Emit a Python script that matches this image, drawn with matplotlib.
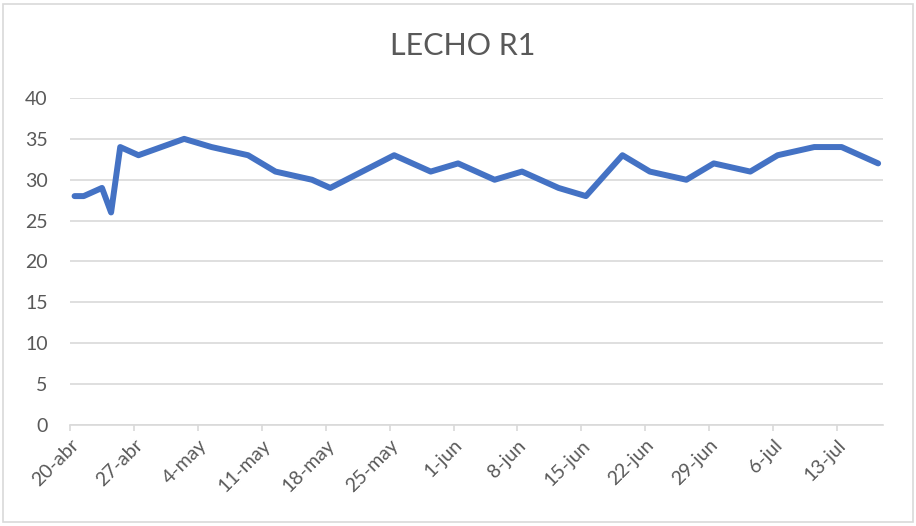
import numpy as np
import matplotlib.pyplot as plt
import matplotlib.dates as mdates
import matplotlib.transforms as mtransforms
from matplotlib.patches import Rectangle

# Datos de la serie LECHO R1
fechas = ['2021-04-20', '2021-04-21', '2021-04-23', '2021-04-24', '2021-04-25',
          '2021-04-27', '2021-05-02', '2021-05-05', '2021-05-09', '2021-05-12',
          '2021-05-16', '2021-05-18', '2021-05-25', '2021-05-29', '2021-06-01',
          '2021-06-05', '2021-06-08', '2021-06-12', '2021-06-15', '2021-06-19',
          '2021-06-22', '2021-06-26', '2021-06-29', '2021-07-03', '2021-07-06',
          '2021-07-10', '2021-07-13', '2021-07-17']
valores = [28, 28, 29, 26, 34, 33, 35, 34, 33, 31, 30, 29, 33, 31, 32,
           30, 31, 29, 28, 33, 31, 30, 32, 31, 33, 34, 34, 32]

ticks_fechas = ['2021-04-20', '2021-04-27', '2021-05-04', '2021-05-11', '2021-05-18',
                '2021-05-25', '2021-06-01', '2021-06-08', '2021-06-15', '2021-06-22',
                '2021-06-29', '2021-07-06', '2021-07-13']
ticks_etiquetas = ['20-abr', '27-abr', '4-may', '11-may', '18-may', '25-may', '1-jun',
                   '8-jun', '15-jun', '22-jun', '29-jun', '6-jul', '13-jul']
y_ticks = [0, 5, 10, 15, 20, 25, 30, 35, 40]

gris_texto = '#595959'
gris_linea = '#D9D9D9'
azul = '#4472C4'

plt.rcParams['font.family'] = ['Lato', 'DejaVu Sans']

x = mdates.date2num(np.array(fechas, dtype='datetime64[D]'))
xt = mdates.date2num(np.array(ticks_fechas, dtype='datetime64[D]')) - 0.5

fig = plt.figure(figsize=(9.16, 5.26), dpi=100)
ax = fig.add_axes([70 / 916, 1 - 425 / 526, 812.7 / 916, 327 / 526])

ax.plot(x, valores, color=azul, linewidth=4.3, solid_joinstyle='round',
        solid_capstyle='round', zorder=3)

ax.set_xlim(x[0] - 0.5, x[-1] + 0.5)
ax.set_ylim(0, 40)
ax.set_yticks(y_ticks)
ax.set_xticks(xt)
ax.set_xticklabels(ticks_etiquetas, rotation=45, ha='right', va='top',
                   rotation_mode='anchor')

# mover las etiquetas un poco hacia la derecha y abajo como en Excel
desplaza = mtransforms.ScaledTranslation(6 / 100, -5 / 100, fig.dpi_scale_trans)
for lbl in ax.get_xticklabels():
    lbl.set_transform(lbl.get_transform() + desplaza)

ax.grid(axis='y', color=gris_linea, linewidth=1.2)
ax.set_axisbelow(True)
for s in ['top', 'right', 'left']:
    ax.spines[s].set_visible(False)
ax.spines['bottom'].set_color(gris_linea)
ax.spines['bottom'].set_linewidth(1.2)

ax.tick_params(axis='y', length=0, pad=16, labelsize=14, labelcolor=gris_texto)
ax.tick_params(axis='x', length=4.3, width=1.2, color=gris_linea, pad=4,
               labelsize=14, labelcolor=gris_texto)

fig.text(463 / 916, 1 - 46 / 526, 'LECHO R1', ha='center', va='center',
         fontsize=22, color=gris_texto)

# borde del grafico
fig.patches.append(Rectangle((3 / 916, 4 / 526), 910 / 916, 518 / 526,
                             transform=fig.transFigure, fill=False,
                             edgecolor=gris_linea, linewidth=1.2))

fig.savefig('out.png', dpi=100)
